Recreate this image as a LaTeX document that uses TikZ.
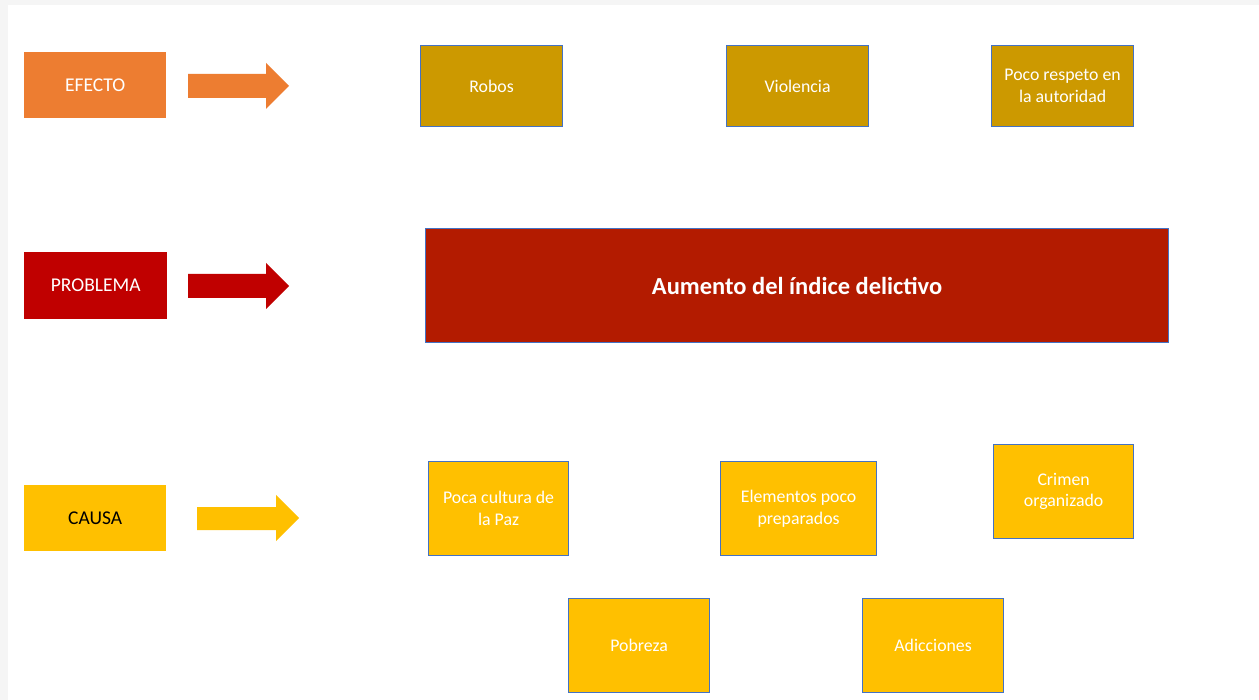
\documentclass[tikz,border=0pt]{standalone}
\usepackage{fontspec}
\setmainfont{Carlito}
\definecolor{efecto}{HTML}{ED7D31}
\definecolor{problema}{HTML}{C00000}
\definecolor{causa}{HTML}{FFC000}
\definecolor{gold}{HTML}{CC9900}
\definecolor{mainred}{HTML}{B31B00}
\definecolor{edge}{HTML}{4472C4}
\begin{document}
\begin{tikzpicture}[x=1pt,y=-1pt,
  label/.style={font=\fontsize{19.5}{22}\selectfont},
  boxtext/.style={font=\fontsize{17.8}{21.5}\selectfont},
  sidebox/.style={label,minimum width=142pt,minimum height=66pt,inner sep=0pt,anchor=north west},
  ebox/.style={boxtext,fill=gold,draw=edge,line width=1.2pt,text=white,minimum width=142pt,minimum height=81pt,inner sep=0pt,anchor=north west,align=center},
  cbox/.style={boxtext,fill=causa,draw=edge,line width=1.2pt,text=white,minimum width=140pt,minimum height=94pt,inner sep=0pt,anchor=north west,align=center}]
\useasboundingbox (0,0) rectangle (1259,700);
\fill[white] (0,0) rectangle (1259,700);
\fill[black!4] (0,0) rectangle (1259,5);
\fill[black!4] (0,0) rectangle (8,700);
% left labels
\node[sidebox,fill=efecto,text=white] (efecto) at (24,52) {EFECTO};
\node[sidebox,fill=problema,text=white,minimum width=143pt,minimum height=67pt] (problema) at (24,252) {PROBLEMA};
\node[sidebox,fill=causa,text=black] (causa) at (24,485) {CAUSA};
% block arrows
\fill[efecto] (188,74) -- (266,74) -- (266,63) -- (289,86) -- (266,109) -- (266,98) -- (188,98) -- cycle;
\fill[problema] (188,274) -- (266,274) -- (266,263) -- (289,286) -- (266,309) -- (266,298) -- (188,298) -- cycle;
\fill[causa] (197,507) -- (276,507) -- (276,495) -- (299,518) -- (276,541) -- (276,530) -- (197,530) -- cycle;
% effects
\node[ebox] (robos) at (420,45) {Robos};
\node[ebox] (violencia) at (726,45) {Violencia};
\node[ebox] (respeto) at (991,45) {Poco respeto en\\la autoridad};
% problem
\node[fill=mainred,draw=edge,line width=1.2pt,text=white,minimum width=743pt,minimum height=114pt,inner sep=0pt,anchor=north west,font=\fontsize{24.5}{29}\selectfont\bfseries] (main) at (425,228) {Aumento del índice delictivo};
% causes
\node[cbox] (cultura) at (428,461) {Poca cultura de\\la Paz};
\node[cbox,minimum width=156pt] (elementos) at (720,461) {Elementos poco\\preparados};
\node[cbox] (crimen) at (993,444) {Crimen\\organizado};
\node[cbox,minimum width=141pt] (pobreza) at (568,598) {Pobreza};
\node[cbox,minimum width=141pt] (adicciones) at (862,598) {Adicciones};
\end{tikzpicture}
\end{document}
